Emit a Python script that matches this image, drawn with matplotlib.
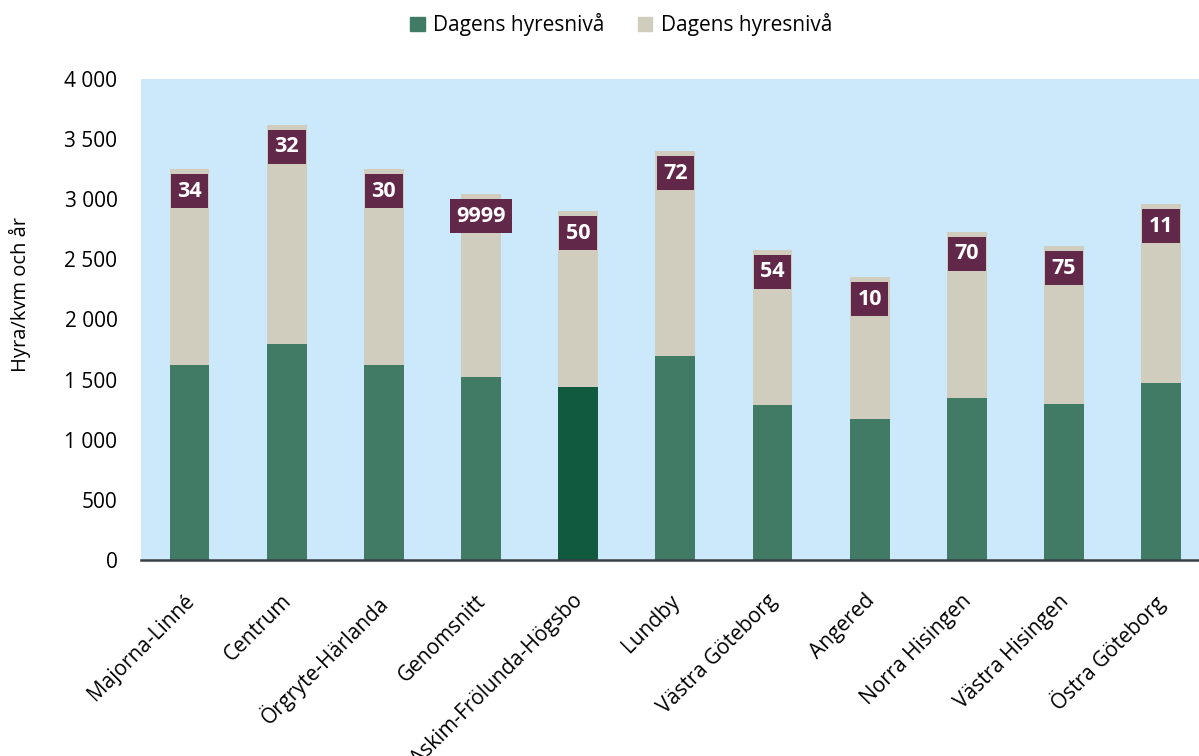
import numpy as np
import matplotlib
matplotlib.use('Agg')
import matplotlib.pyplot as plt
import matplotlib.transforms as mtransforms
from matplotlib.ticker import FuncFormatter, MultipleLocator
from matplotlib.patches import Patch

plt.rcParams['font.family'] = ['Open Sans', 'DejaVu Sans']

# ============================================================
# Data
# ============================================================
AREAS = ['Majorna-Linné', 'Centrum', 'Örgryte-Härlanda', 'Genomsnitt',
         'Askim-Frölunda-Högsbo', 'Lundby', 'Västra Göteborg', 'Angered',
         'Norra Hisingen', 'Västra Hisingen', 'Östra Göteborg']
BASE_RENT = [1620, 1800, 1620, 1520, 1440, 1700, 1290, 1170, 1350, 1300, 1470]
TOTAL_RENT = [3250, 3620, 3250, 3040, 2900, 3400, 2580, 2350, 2730, 2610, 2960]
BADGES = ['34', '32', '30', '9999', '50', '72', '54', '10', '70', '75', '11']
LEGEND_LABELS = ['Dagens hyresnivå', 'Dagens hyresnivå']
HIGHLIGHT = 'Askim-Frölunda-Högsbo'

GREEN = '#417b65'
DARK_GREEN = '#115a40'
BEIGE = '#d0cdbf'
BG = '#cce9fb'
BADGE = '#62284a'

# ============================================================
# Plot
# ============================================================
fig = plt.figure(figsize=(11.99, 7.56), dpi=100)
ax = fig.add_axes([0.1176, 0.2593, 0.8824, 0.6362])
ax.set_facecolor(BG)

x = np.arange(len(AREAS))
base = np.array(BASE_RENT)
top = np.array(TOTAL_RENT) - base
colors = [DARK_GREEN if a == HIGHLIGHT else GREEN for a in AREAS]

ax.bar(x, base, width=0.41, color=colors, zorder=2)
ax.bar(x, top, bottom=base, width=0.41, color=BEIGE, zorder=2)

for xi, total, txt in zip(x, TOTAL_RENT, BADGES):
    ax.annotate(txt, (xi, total), xytext=(0, -22), textcoords='offset pixels',
                ha='center', va='center', color='white', fontsize=15.5,
                fontweight='bold', zorder=5,
                bbox=dict(boxstyle='square,pad=0.3', fc=BADGE, ec='none'))

ax.set_xlim(-0.5, 10.39)
ax.set_ylim(0, 4000)
ax.yaxis.set_major_locator(MultipleLocator(500))
ax.yaxis.set_major_formatter(FuncFormatter(lambda v, p: f'{v:,.0f}'.replace(',', ' ')))

ax.set_xticks(x)
ax.set_xticklabels(AREAS, rotation=45, ha='right', fontsize=15)
ax.tick_params(axis='x', length=0, pad=22)
ax.tick_params(axis='y', length=0, pad=17, labelsize=15)

# nudge rotated labels right so their ends sit at the bar centre
shift = mtransforms.ScaledTranslation(9 / 100, 0, fig.dpi_scale_trans)
for lbl in ax.get_xticklabels():
    lbl.set_transform(lbl.get_transform() + shift)

for s in ['top', 'right', 'left']:
    ax.spines[s].set_visible(False)
ax.spines['bottom'].set_color('#3a3f45')
ax.spines['bottom'].set_linewidth(1.8)
ax.spines['bottom'].set_zorder(4)

fig.text(0.017, 0.61, 'Hyra/kvm och år', rotation=90, ha='center', va='center',
         fontsize=14.5)

handles = [Patch(color=GREEN), Patch(color=BEIGE)]
fig.legend(handles, LEGEND_LABELS, loc='center', bbox_to_anchor=(0.518, 0.967),
           ncol=2, frameon=False, fontsize=15, handlelength=0.7,
           handleheight=0.7, handletextpad=0.4, columnspacing=1.6)

fig.savefig('out.png', dpi=100)
